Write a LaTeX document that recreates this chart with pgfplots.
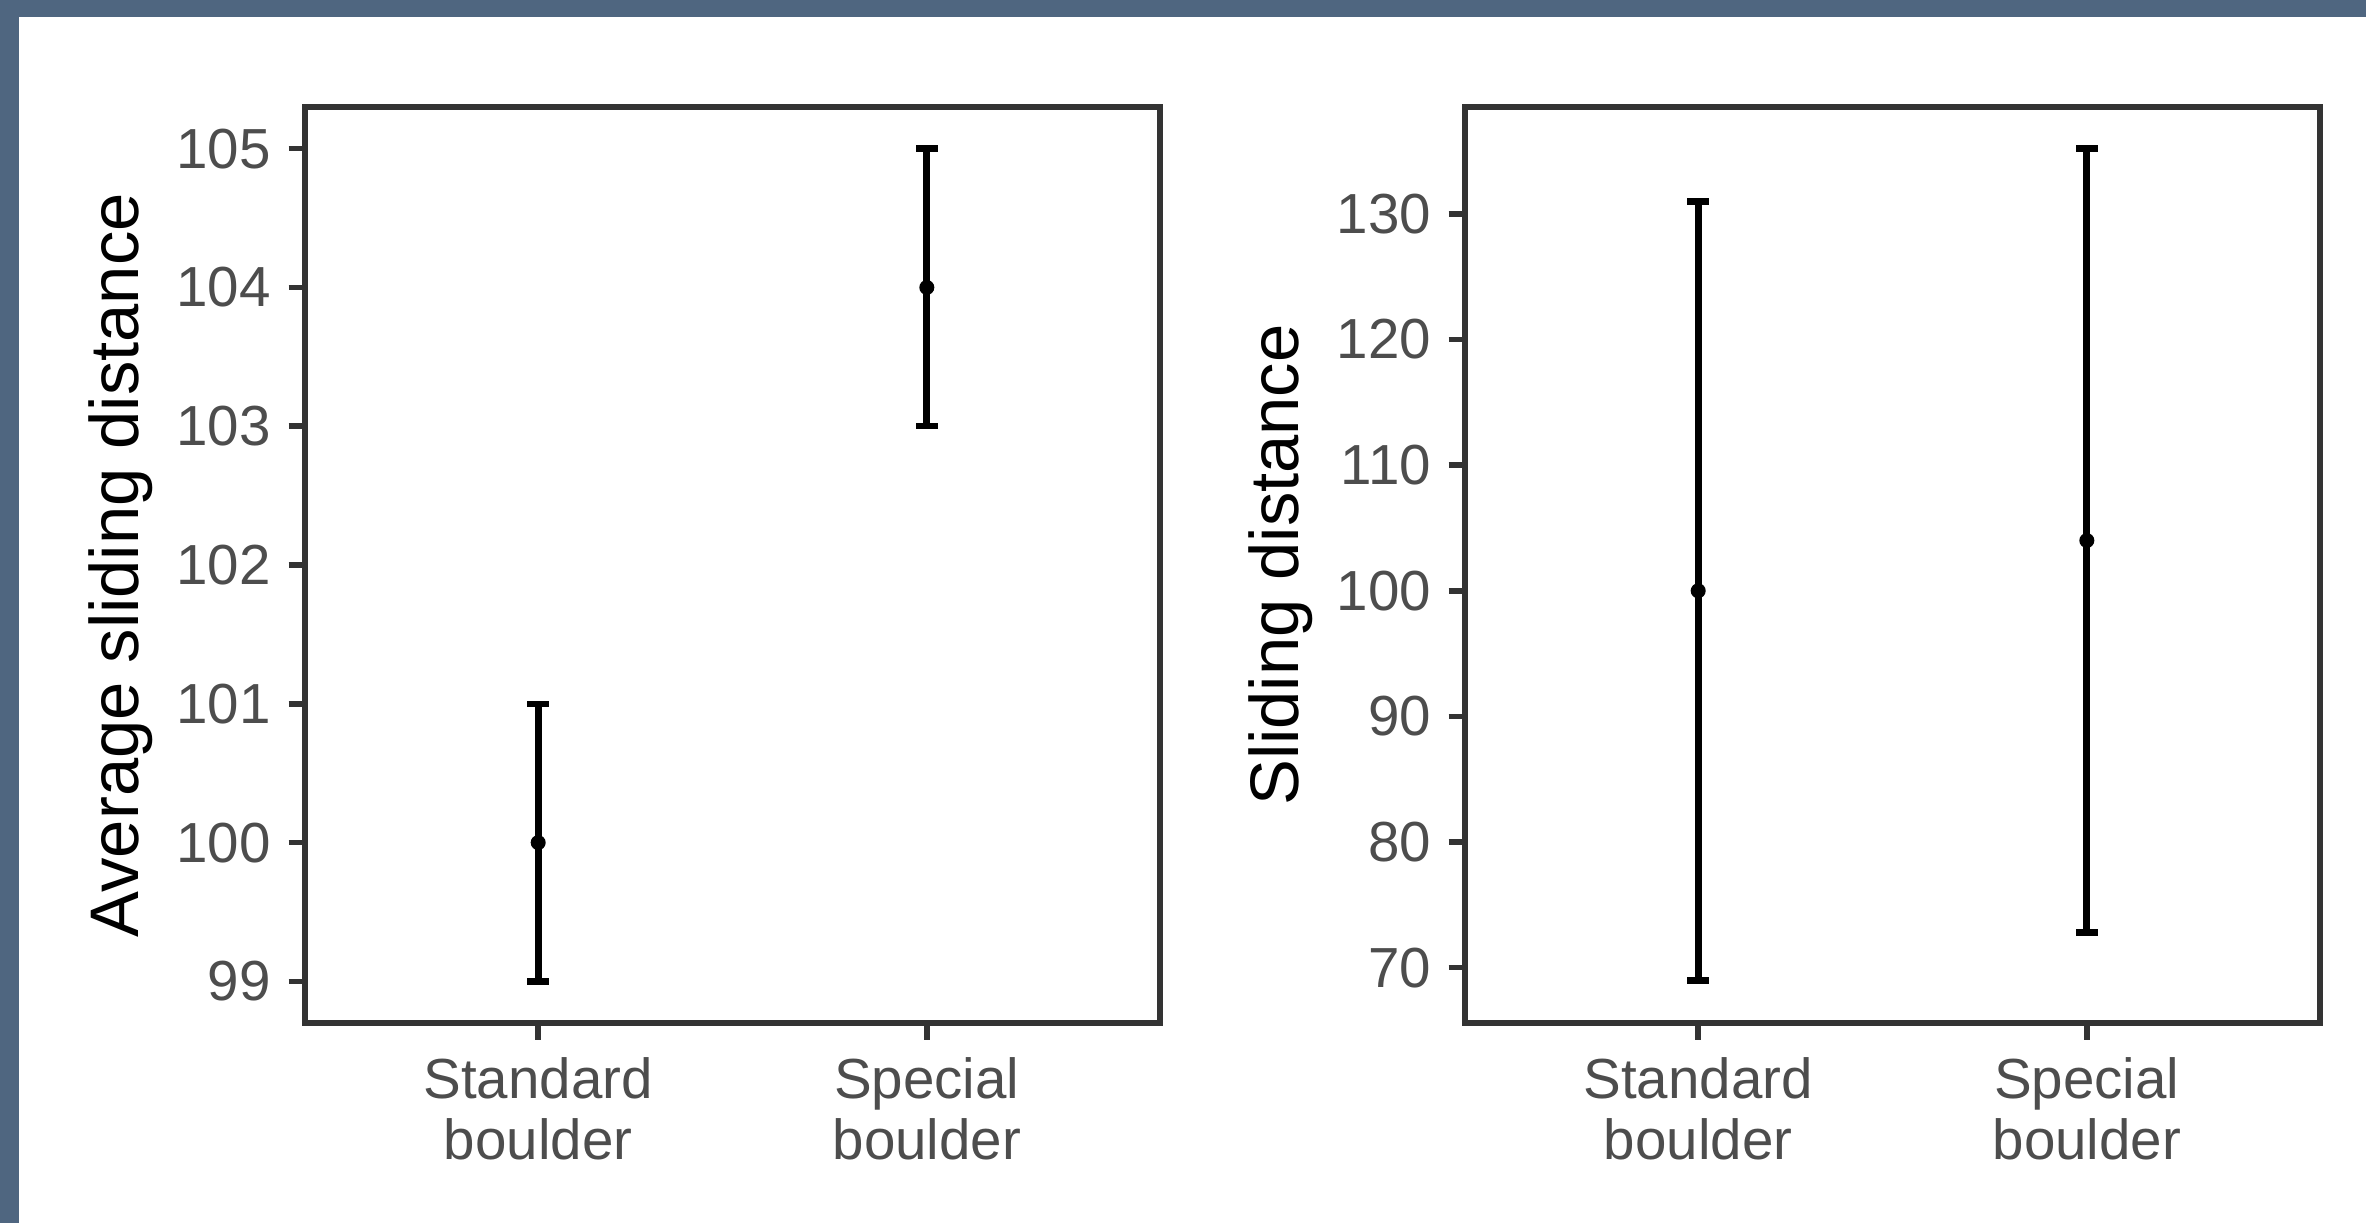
\documentclass[border=0pt]{standalone}
\usepackage{fontspec}
\setmainfont{Liberation Sans}
\usepackage{pgfplots}
\pgfplotsset{compat=1.18}
\definecolor{frame}{RGB}{79,102,128}
\definecolor{axisgrey}{RGB}{51,51,51}
\definecolor{ticktext}{RGB}{77,77,77}

\pgfplotsset{
  panel/.style={
    scale only axis,
    width=171pt, height=183.2pt,
    anchor=south west,
    xmin=0.4, xmax=2.6,
    xtick={1,2},
    xticklabels={Standard\\boulder, Special\\boulder},
    axis line style={axisgrey, line width=1.1pt},
    tick style={axisgrey, line width=1.1pt},
    tick align=outside,
    major tick length=3.3pt,
    xtick pos=bottom, ytick pos=left,
    ticklabel style={font=\fontsize{11.3}{12.3}\selectfont, text=ticktext},
    x tick label style={align=center},
    /pgf/number format/assume math mode=true,
    label style={font=\fontsize{13.75}{15}\selectfont, text=black},
    ylabel style={at={(axis description cs:-0.215,0.5)}, anchor=center},
    clip=false,
  },
  ebar/.style={
    black, only marks, mark=*, mark size=1.3pt,
    mark options={draw=black, fill=black},
    error bars/.cd, y dir=both, y explicit,
    error bar style={black, line width=1.35pt},
    error mark options={black, rotate=90, mark size=2.15pt, line width=1.3pt},
  },
}

\begin{document}
\begin{tikzpicture}
  \fill[white] (0,0) rectangle (473.2pt,244.6pt);
  \fill[frame] (0,0) rectangle (3.8pt,244.6pt);
  \fill[frame] (0,241.2pt) rectangle (473.2pt,244.6pt);

  \begin{axis}[panel, at={(61pt,40pt)},
    ymin=98.7, ymax=105.3,
    ytick={99,100,101,102,103,104,105},
    ylabel={Average sliding distance}]
    \addplot[ebar] coordinates {
      (1,100) +- (0,1)
      (2,104) +- (0,1)
    };
  \end{axis}

  \begin{axis}[panel, at={(293pt,40pt)},
    ymin=65.6, ymax=138.5,
    ytick={70,80,90,100,110,120,130},
    ylabel={Sliding distance}]
    \addplot[ebar] coordinates {
      (1,100) +- (0,31)
      (2,104) +- (0,31.2)
    };
  \end{axis}
\end{tikzpicture}
\end{document}
